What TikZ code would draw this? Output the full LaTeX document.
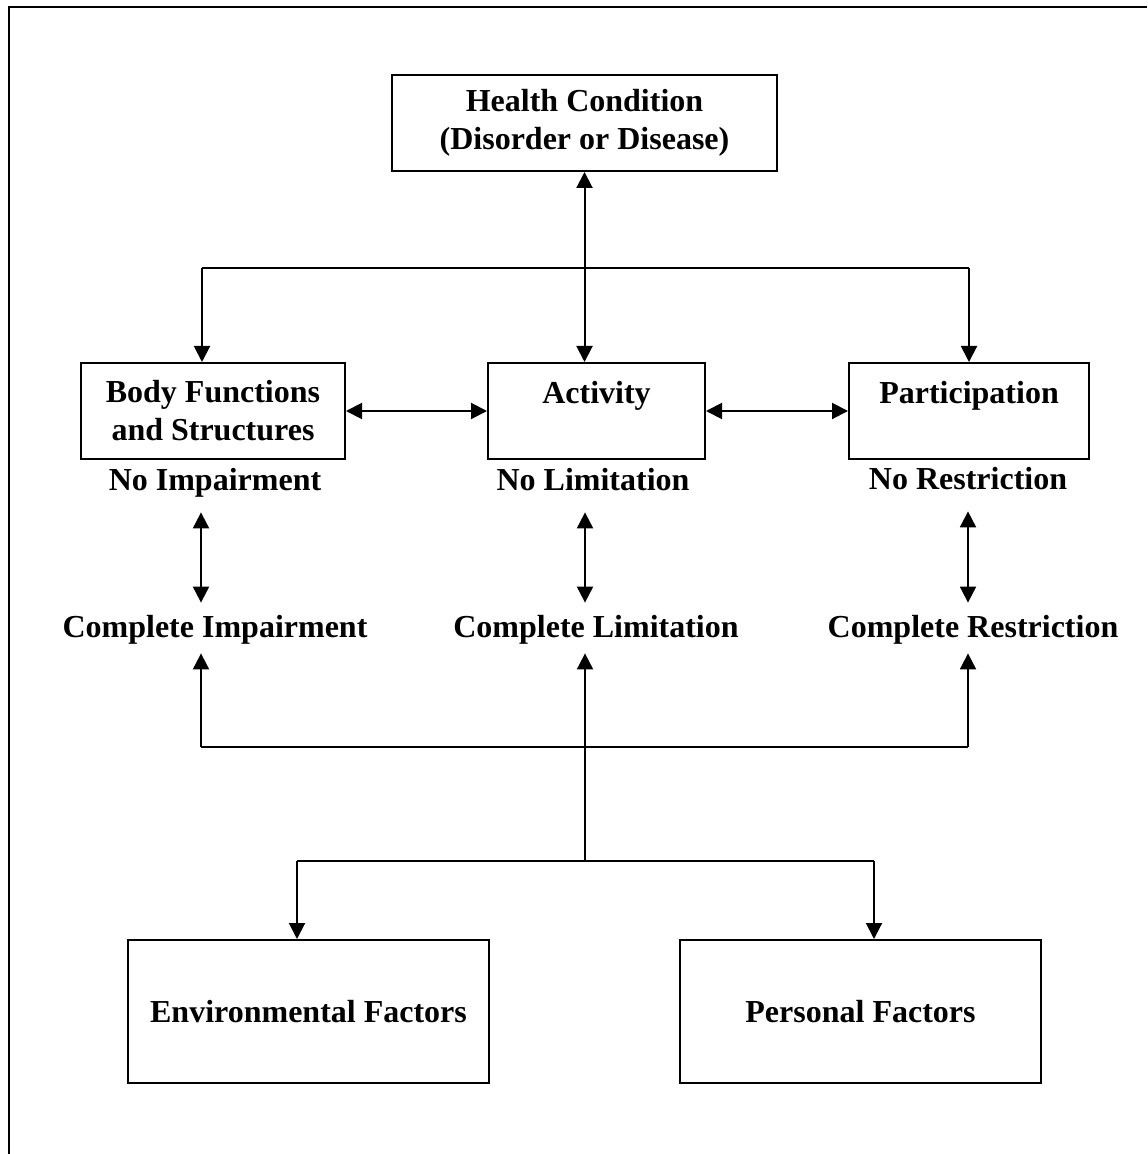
\documentclass[tikz,border=0pt]{standalone}
\usepackage{fontspec}
\setmainfont{Liberation Serif}
\usetikzlibrary{arrows.meta}
\begin{document}
\begin{tikzpicture}[x=0.5pt,y=-0.5pt,
  every node/.style={font=\fontsize{16}{19}\selectfont\bfseries, align=center},
  box/.style={draw, line width=1pt, inner sep=0pt},
  lbl/.style={inner sep=0pt, text height=10.5pt, text depth=3.5pt},
  conn/.style={line width=1pt},
  arr/.style={conn, -{Triangle[width=8pt,length=8pt]}},
  dblarr/.style={conn, {Triangle[width=8pt,length=8pt]}-{Triangle[width=8pt,length=8pt]}}]
\useasboundingbox (0,0) rectangle (1147,1154);
\draw[line width=1.1pt] (9,1154) -- (9,7) -- (1147,7);

\node[box, minimum width=192.5pt, minimum height=48pt] (health) at (584.5,123) {Health Condition\\(Disorder or Disease)};
\node[box, minimum width=132pt, minimum height=48pt] (body) at (213,411) {Body Functions\\and Structures};
\node[box, minimum width=108.5pt, minimum height=48pt] (act) at (596.5,411) {Activity\\\mbox{}};
\node[box, minimum width=120pt, minimum height=48pt] (part) at (969,411) {Participation\\\mbox{}};

\node[lbl] (noimp) at (215,483) {No Impairment};
\node[lbl] (nolim) at (593,483) {No Limitation};
\node[lbl] (nores) at (968,482) {No Restriction};
\node[lbl] (compimp) at (215,630) {Complete Impairment};
\node[lbl] (complim) at (596,630) {Complete Limitation};
\node[lbl] (compres) at (973,630) {Complete Restriction};

\node[box, minimum width=180.5pt, minimum height=71.5pt] (env) at (308.5,1011.5) {Environmental Factors};
\node[box, minimum width=180.5pt, minimum height=71.5pt] (pers) at (860.5,1011.5) {Personal Factors};

\coordinate (hl) at (202,268);
\coordinate (hr) at (969,268);
\coordinate (ml) at (201,747);
\coordinate (mc) at (585,747);
\coordinate (mr) at (968,747);
\coordinate (bl) at (297,861);
\coordinate (bc) at (585,861);
\coordinate (br) at (874,861);

\draw[dblarr] (health.south) -- (health.south |- act.north);
\draw[conn] (hl) -- (hr);
\draw[arr] (hl) -- (hl |- body.north);
\draw[arr] (hr) -- (hr |- part.north);
\draw[dblarr] (body) -- (act);
\draw[dblarr] (act) -- (part);

\draw[dblarr, shorten <=7.5pt, shorten >=6.5pt] (noimp.south -| ml) -- (compimp.north -| ml);
\draw[dblarr, shorten <=7.5pt, shorten >=6.5pt] (nolim.south -| mc) -- (complim.north -| mc);
\draw[dblarr, shorten <=7.5pt, shorten >=6.5pt] (nores.south -| mr) -- (compres.north -| mr);

\draw[conn] (ml) -- (mr);
\draw[arr, shorten >=4.5pt] (ml) -- (ml |- compimp.south);
\draw[arr, shorten >=4.5pt] (mr) -- (mr |- compres.south);
\draw[arr, shorten >=4.5pt] (bc) -- (bc |- complim.south);
\draw[conn] (bl) -- (br);
\draw[arr] (bl) -- (bl |- env.north);
\draw[arr] (br) -- (br |- pers.north);
\end{tikzpicture}
\end{document}
